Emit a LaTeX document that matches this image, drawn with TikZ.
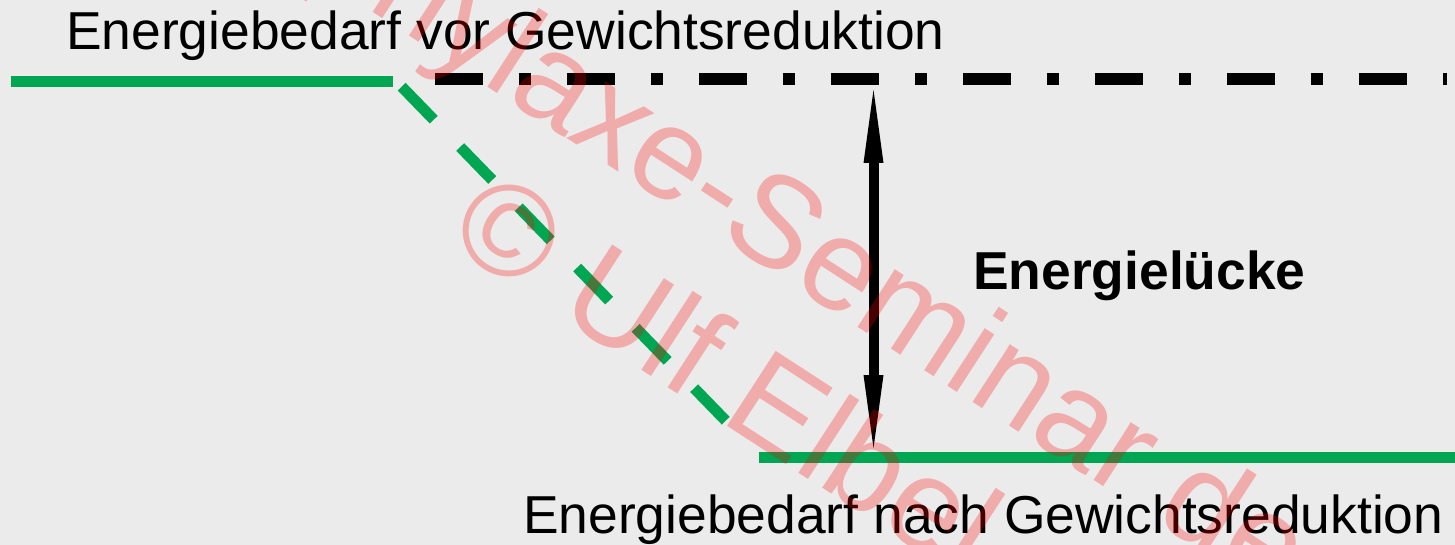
\documentclass[tikz,border=0pt]{standalone}
\usepackage{fontspec}
\setmainfont{Liberation Sans}
\usetikzlibrary{arrows.meta}
\definecolor{bgGray}{RGB}{235,235,235}
\definecolor{levelGreen}{RGB}{0,166,81}
\begin{document}
\begin{tikzpicture}[x=1pt,y=-1pt,
  level/.style={draw=levelGreen, line width=11pt, line cap=butt},
  refline/.style={draw=black, line width=12pt, line cap=butt, dash pattern=on 48pt off 36pt on 12pt off 36pt},
  lbl/.style={anchor=base west, inner sep=0pt, font=\fontsize{53.4}{60}\selectfont},
  gaparrow/.style={draw=black, line width=10pt, {Triangle[length=73pt,width=20pt,line width=0pt]}-{Triangle[length=73pt,width=20pt,line width=0pt]}},
  wmark/.style={anchor=base west, inner sep=0pt, text=red, text opacity=0.27, rotate=-33, font=\fontsize{130}{150}\selectfont}]
\fill[bgGray] (0,0) rectangle (1455,545);
\useasboundingbox (0,0) rectangle (1455,545);
\clip (0,0) rectangle (1455,545);
% coordinates
\coordinate (oldL) at (11,81.5);
\coordinate (oldR) at (393,81.5);
\coordinate (slopeA) at (401.7,86.7);
\coordinate (slopeB) at (725.7,420.7);
\coordinate (newL) at (759,457.5);
\coordinate (newR) at (1455,457.5);
\coordinate (refStart) at (435,79);
\coordinate (refEnd) at (1447,79);
\coordinate (gapTop) at (873.5,90);
\coordinate (gapBot) at (873.5,448);
% lines
\draw[level] (oldL) -- (oldR);
\draw[level, dash pattern=on 46pt off 38pt] (slopeA) -- (slopeB);
\draw[level] (newL) -- (newR);
\draw[refline] (refStart) -- (refEnd);
\draw[gaparrow] (gapTop) -- (gapBot);
% labels
\node[lbl] (lblVor) at (66,49.5) {Energiebedarf vor Gewichtsreduktion};
\node[lbl] (lblNach) at (523,533) {Energiebedarf nach Gewichtsreduktion};
\node[lbl, font=\fontsize{53.4}{60}\selectfont\bfseries] (lblGap) at (973,289) {Energielücke};
% watermark
\node[wmark] (wm1) at (135,-142) {Prophylaxe-Seminar de};
\node[wmark] (wm2) at (444.6,242.7) {© Ulf Elbel};
\end{tikzpicture}
\end{document}
